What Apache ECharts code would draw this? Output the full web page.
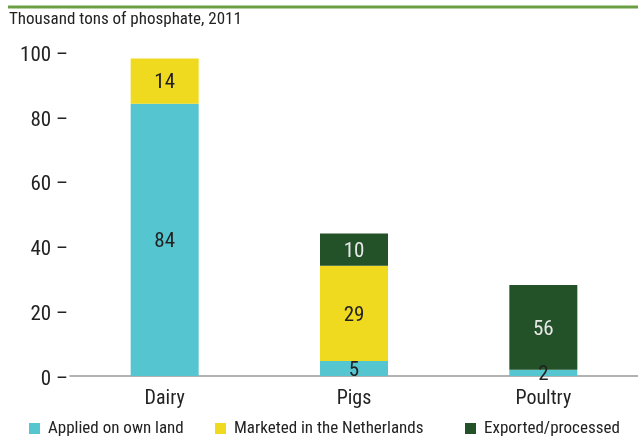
<!DOCTYPE html>
<html><head><meta charset="utf-8">
<script src="https://cdn.jsdelivr.net/npm/echarts@6/dist/echarts.min.js"></script>
<style>html,body{margin:0;padding:0;background:#fff}#c{width:638px;height:439px}</style>
</head><body><div id="c"></div>
<script>
const categories = ['Dairy', 'Pigs', 'Poultry'];
const seriesNames = ['Applied on own land', 'Marketed in the Netherlands', 'Exported/processed'];
const applied = [84, 4.6, 1.9];
const marketed = [14, 29.4, null];
const exported = [null, 10, 26.2];
const appliedLabels = ['84', '5', '2'];
const marketedLabels = ['14', '29', ''];
const exportedLabels = ['', '10', '56'];
const yTicks = [0, 20, 40, 60, 80, 100];

const colors = ['#55C6D0', '#F0DA20', '#235228'];
const FONT = '"Roboto Condensed", sans-serif';
const chart = echarts.init(document.getElementById('c'));
function mk(name, data, labels, color, textColor) {
  return {
    name, type: 'bar', stack: 'a', data, barWidth: 68,
    itemStyle: { color },
    label: { show: true, position: 'inside', offset: [0, 2], fontFamily: FONT, fontSize: 21, color: textColor,
      formatter: p => labels[p.dataIndex] },
    emphasis: { disabled: true }
  };
}
const legendLefts = [29, 215, 465];
chart.setOption({
  animation: false,
  graphic: [
    { type: 'line', shape: { x1: 8, y1: 7, x2: 638, y2: 7 }, style: { stroke: '#6AA043', lineWidth: 3 } },
    { type: 'text', left: 9, top: 11, style: { text: 'Thousand tons of phosphate, 2011', font: '17px ' + FONT, fill: '#222' } }
  ],
  legend: seriesNames.map((n, i) => ({
    top: 420, left: legendLefts[i], itemWidth: 11, itemHeight: 11, itemGap: 0, padding: 0,
    icon: 'rect',
    textStyle: { fontFamily: FONT, fontSize: 17, color: '#222', padding: [3, 0, 0, 3] },
    data: [n]
  })),
  grid: { left: 70, right: 0, top: 52, bottom: 63 },
  xAxis: {
    type: 'category', data: categories,
    axisLine: { lineStyle: { color: '#999', width: 1.5 } },
    axisTick: { show: false },
    axisLabel: { fontFamily: FONT, fontSize: 20, color: '#222', margin: 13 }
  },
  yAxis: {
    type: 'value', min: 0, max: 100, interval: 20,
    splitLine: { show: false },
    axisLine: { show: false }, axisTick: { show: false },
    axisLabel: { margin: 2,
      formatter: v => yTicks.includes(v) ? '{a|' + v + ' –}' : '',
      rich: { a: { fontFamily: FONT, fontSize: 21, color: '#222', padding: [7, 0, 0, 0] } } }
  },
  series: [
    mk(seriesNames[0], applied, appliedLabels, colors[0], '#222'),
    mk(seriesNames[1], marketed, marketedLabels, colors[1], '#222'),
    mk(seriesNames[2], exported, exportedLabels, colors[2], '#e8e8e8')
  ]
});
</script></body></html>
